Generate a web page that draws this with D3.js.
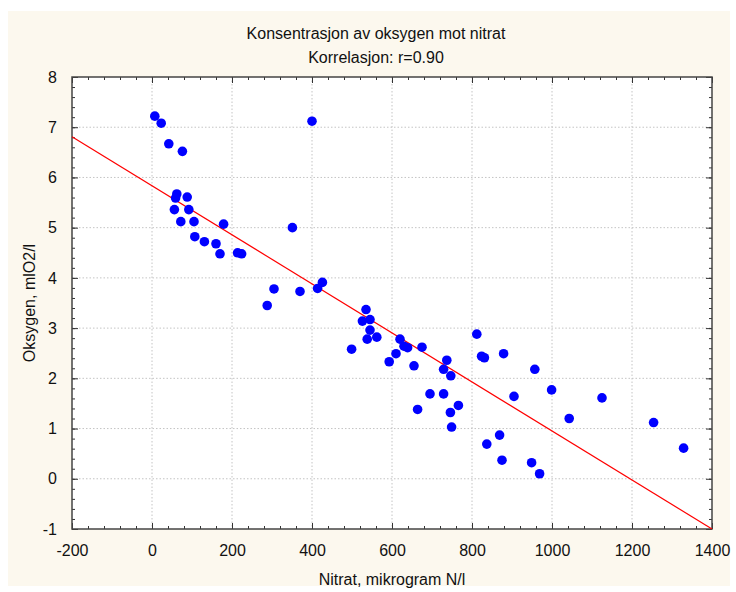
<!DOCTYPE html>
<html>
<head>
<meta charset="utf-8">
<script src="https://cdn.jsdelivr.net/npm/d3@7"></script>
<style>
  body { margin: 0; background: #fff; }
  svg text { font-family: "Liberation Sans", Arial, sans-serif; fill: #111; }
</style>
</head>
<body>
<div id="vis"></div>
<script>
// values
const nitrat = [7, 23, 42, 76, 62, 59, 88, 56, 92, 72, 105, 107, 131, 160, 170, 179, 214, 224,
  351, 400, 288, 305, 370, 414, 426,
  535, 526, 545, 545, 538, 562, 499, 620, 630, 639, 610, 593, 655, 675,
  737, 729, 747, 812, 824, 831, 879, 905, 695, 729, 766, 664, 746, 749,
  957, 999, 1043, 1125, 1254, 1329, 869, 837, 875, 949, 969];
const oksygen = [7.22, 7.08, 6.67, 6.52, 5.67, 5.59, 5.61, 5.36, 5.36, 5.12, 5.12, 4.82, 4.72, 4.68, 4.48, 5.07, 4.50, 4.48,
  5.00, 7.12, 3.45, 3.78, 3.73, 3.79, 3.91,
  3.37, 3.14, 3.17, 2.96, 2.78, 2.82, 2.58, 2.78, 2.64, 2.61, 2.49, 2.33, 2.25, 2.62,
  2.36, 2.18, 2.05, 2.88, 2.44, 2.41, 2.49, 1.64, 1.69, 1.69, 1.46, 1.38, 1.32, 1.03,
  2.18, 1.77, 1.20, 1.61, 1.12, 0.61, 0.87, 0.69, 0.37, 0.32, 0.10];

// fitted line ends
const fitX = [-200, 1400];
const fitY = [6.81, -1.0];

const xTicks = [-200, 0, 200, 400, 600, 800, 1000, 1200, 1400];
const yTicks = [-1, 0, 1, 2, 3, 4, 5, 6, 7, 8];

const title1 = "Konsentrasjon av oksygen mot nitrat";
const title2 = "Korrelasjon: r=0.90";
const xTitle = "Nitrat, mikrogram N/l";
const yTitle = "Oksygen, mlO2/l";

const width = 736, height = 592;
const margin = {top: 77, right: 24, bottom: 63, left: 72};
const w = width - margin.left - margin.right;
const h = height - margin.top - margin.bottom;

const svg = d3.select("#vis").append("svg")
  .attr("width", width)
  .attr("height", height);

// cream frame
svg.append("rect")
  .attr("x", 8).attr("y", 11)
  .attr("width", 722).attr("height", 575)
  .attr("fill", "#fcf8ee");

const g = svg.append("g")
  .attr("transform", `translate(${margin.left}, ${margin.top})`);

g.append("rect")
  .attr("width", w).attr("height", h)
  .attr("fill", "#fff");

const x = d3.scaleLinear().domain([-200, 1400]).range([0, w]);
const y = d3.scaleLinear().domain([-1, 8]).range([h, 0]);

// grid
g.selectAll(".gx")
  .data(xTicks.slice(1, -1))
  .join("line")
  .attr("class", "gx")
  .attr("x1", d => x(d)).attr("x2", d => x(d))
  .attr("y1", 0).attr("y2", h)
  .attr("stroke", "#c4c4c4")
  .attr("stroke-dasharray", "1.5,2");

g.selectAll(".gy")
  .data(yTicks.slice(1, -1))
  .join("line")
  .attr("class", "gy")
  .attr("x1", 0).attr("x2", w)
  .attr("y1", d => y(d)).attr("y2", d => y(d))
  .attr("stroke", "#c4c4c4")
  .attr("stroke-dasharray", "1.5,2");

// minor ticks
const xMinor = d3.range(-200, 1400.1, 40);
const yMinor = d3.range(-1, 8.01, 0.2);

function tickAxes(axis, ticks, size, labels) {
  return axis.tickValues(ticks).tickSizeInner(size).tickSizeOuter(0)
    .tickFormat(labels ? (d => String(d)) : "");
}

// bottom
g.append("g").attr("transform", `translate(0, ${h})`)
  .call(tickAxes(d3.axisBottom(x), xMinor, -3, false))
  .call(a => a.select(".domain").remove());
g.append("g").attr("transform", `translate(0, ${h})`)
  .call(tickAxes(d3.axisBottom(x), xTicks, -6, true).tickPadding(16))
  .call(a => a.select(".domain").remove())
  .call(a => a.selectAll("text").attr("font-size", "16px"));
// top
g.append("g")
  .call(tickAxes(d3.axisTop(x), xMinor, -3, false))
  .call(a => a.select(".domain").remove());
g.append("g")
  .call(tickAxes(d3.axisTop(x), xTicks, -6, false))
  .call(a => a.select(".domain").remove());
// left
g.append("g")
  .call(tickAxes(d3.axisLeft(y), yMinor, -3, false))
  .call(a => a.select(".domain").remove());
g.append("g")
  .call(tickAxes(d3.axisLeft(y), yTicks, -6, true).tickPadding(15))
  .call(a => a.select(".domain").remove())
  .call(a => a.selectAll("text").attr("font-size", "16px"));
// right
g.append("g").attr("transform", `translate(${w}, 0)`)
  .call(tickAxes(d3.axisRight(y), yMinor, -3, false))
  .call(a => a.select(".domain").remove());
g.append("g").attr("transform", `translate(${w}, 0)`)
  .call(tickAxes(d3.axisRight(y), yTicks, -6, false))
  .call(a => a.select(".domain").remove());

g.selectAll(".tick line").attr("stroke", "#333");

// frame
g.append("rect")
  .attr("width", w).attr("height", h)
  .attr("fill", "none")
  .attr("stroke", "#444")
  .attr("stroke-width", 1.5);

// fitted line
g.append("line")
  .attr("x1", x(fitX[0])).attr("y1", y(fitY[0]))
  .attr("x2", x(fitX[1])).attr("y2", y(fitY[1]))
  .attr("stroke", "#ff0000")
  .attr("stroke-width", 1.2);

// dots
g.selectAll(".dot")
  .data(nitrat.map((n, i) => ({n: n, o: oksygen[i]})))
  .join("circle")
  .attr("class", "dot")
  .attr("cx", d => x(d.n))
  .attr("cy", d => y(d.o))
  .attr("r", 4.8)
  .attr("fill", "#0000ff");

// titles
svg.append("text")
  .attr("x", 376).attr("y", 39)
  .attr("text-anchor", "middle")
  .attr("font-size", "16px")
  .text(title1);

svg.append("text")
  .attr("x", 376).attr("y", 63)
  .attr("text-anchor", "middle")
  .attr("font-size", "16px")
  .text(title2);

svg.append("text")
  .attr("x", margin.left + w / 2).attr("y", 585)
  .attr("text-anchor", "middle")
  .attr("font-size", "16px")
  .text(xTitle);

svg.append("text")
  .attr("transform", `translate(35, ${margin.top + h / 2}) rotate(-90)`)
  .attr("text-anchor", "middle")
  .attr("font-size", "16px")
  .text(yTitle);
</script>
</body>
</html>
